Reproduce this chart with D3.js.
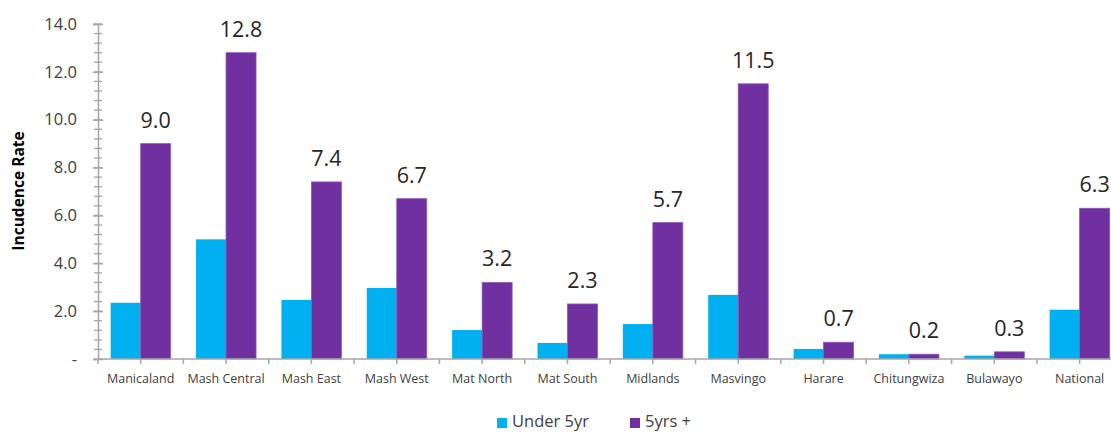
<!DOCTYPE html>
<html><head><meta charset="utf-8">
<script src="https://cdn.jsdelivr.net/npm/d3@7"></script>
<style>body{margin:0;background:#fff}svg{display:block}text{font-family:"Open Sans","Noto Sans",sans-serif}</style>
</head><body><svg id="c" width="1111" height="432"></svg>
<script>
const categories = ["Manicaland","Mash Central","Mash East","Mash West","Mat North","Mat South","Midlands","Masvingo","Harare","Chitungwiza","Bulawayo","National"];
const under5 = [2.35, 5.0, 2.47, 2.97, 1.21, 0.67, 1.46, 2.68, 0.42, 0.2, 0.14, 2.06];
const over5 = [9.0, 12.8, 7.4, 6.7, 3.2, 2.3, 5.7, 11.5, 0.7, 0.2, 0.3, 6.3];
const seriesNames = ["Under 5yr","5yrs +"];
const colors = ["#00B0F0","#7030A0"];
const yTicks = [0,2,4,6,8,10,12,14];

const svg = d3.select("#c");
const x0 = 98, step = 85.36, xEnd = 1111, yTop = 24, yBot = 359;
const x = d3.scaleBand().domain(categories).range([x0, x0 + step*categories.length]).paddingInner(0).paddingOuter(0);
const y = d3.scaleLinear().domain([0,14]).range([yBot, yTop]);
const barW = 30;

// minor ticks
const minor = d3.range(0, 14.001, 0.4);
svg.append("g").selectAll("line").data(minor).join("line")
  .attr("x1", x0-4).attr("x2", x0+4).attr("y1", d=>y(d)).attr("y2", d=>y(d))
  .attr("stroke","#a6a6a6").attr("stroke-width",1.3);

// y axis
const yAxis = svg.append("g").attr("transform",`translate(${x0},0)`)
  .call(d3.axisLeft(y).tickValues(yTicks).tickSize(5).tickFormat(d=>d===0?"-":d3.format(".1f")(d)));
yAxis.select(".domain").attr("stroke","#a6a6a6").attr("stroke-width",1.5);
yAxis.selectAll(".tick line").attr("stroke","#a6a6a6").attr("stroke-width",1.5).attr("x2",5).attr("x1",-5);
yAxis.selectAll(".tick text").attr("x",-21).attr("font-size",16.5).attr("fill","#404040");

// bars
const g = svg.append("g");
categories.forEach((c,i)=>{
  const cx = x(c) + x.bandwidth()/2;
  g.append("rect").attr("x", cx-barW).attr("y", y(under5[i])).attr("width", barW).attr("height", yBot-y(under5[i])).attr("fill", colors[0]);
  g.append("rect").attr("x", cx).attr("y", y(over5[i])).attr("width", barW).attr("height", yBot-y(over5[i])).attr("fill", colors[1]).attr("stroke","#8a58b8").attr("stroke-width",0.8);
  g.append("text").attr("x", cx+barW/2).attr("y", y(over5[i])-16).attr("text-anchor","middle")
    .attr("font-size",21.5).attr("fill","#262626").text(d3.format(".1f")(over5[i]));
});

// x axis
svg.append("line").attr("x1",x0).attr("x2",xEnd).attr("y1",yBot).attr("y2",yBot).attr("stroke","#a6a6a6").attr("stroke-width",1.5);
const xt = [];
categories.forEach(c=>{ xt.push(x(c)); xt.push(x(c)+x.bandwidth()/2); });
svg.append("g").selectAll("line").data(xt.filter(d=>d<xEnd)).join("line")
  .attr("x1",d=>d).attr("x2",d=>d).attr("y1",yBot).attr("y2",yBot+5).attr("stroke","#a6a6a6").attr("stroke-width",1.5);
svg.append("g").selectAll("text").data(categories).join("text")
  .attr("x", d=>x(d)+x.bandwidth()/2).attr("y", 383).attr("text-anchor","middle")
  .attr("font-size",12.5).attr("fill","#404040").text(d=>d);

// y title
svg.append("text").attr("transform","translate(24,191) rotate(-90)").attr("text-anchor","middle")
  .attr("font-size",15.5).attr("font-weight","bold").attr("fill","#000").text("Incudence Rate");

// legend
const lx = [497, 630];
seriesNames.forEach((s,i)=>{
  svg.append("rect").attr("x",lx[i]).attr("y",418).attr("width",10).attr("height",10).attr("fill",colors[i]);
  svg.append("text").attr("x",lx[i]+15).attr("y",427).attr("font-size",16.5).attr("fill","#404040").text(s);
});
</script></body></html>
